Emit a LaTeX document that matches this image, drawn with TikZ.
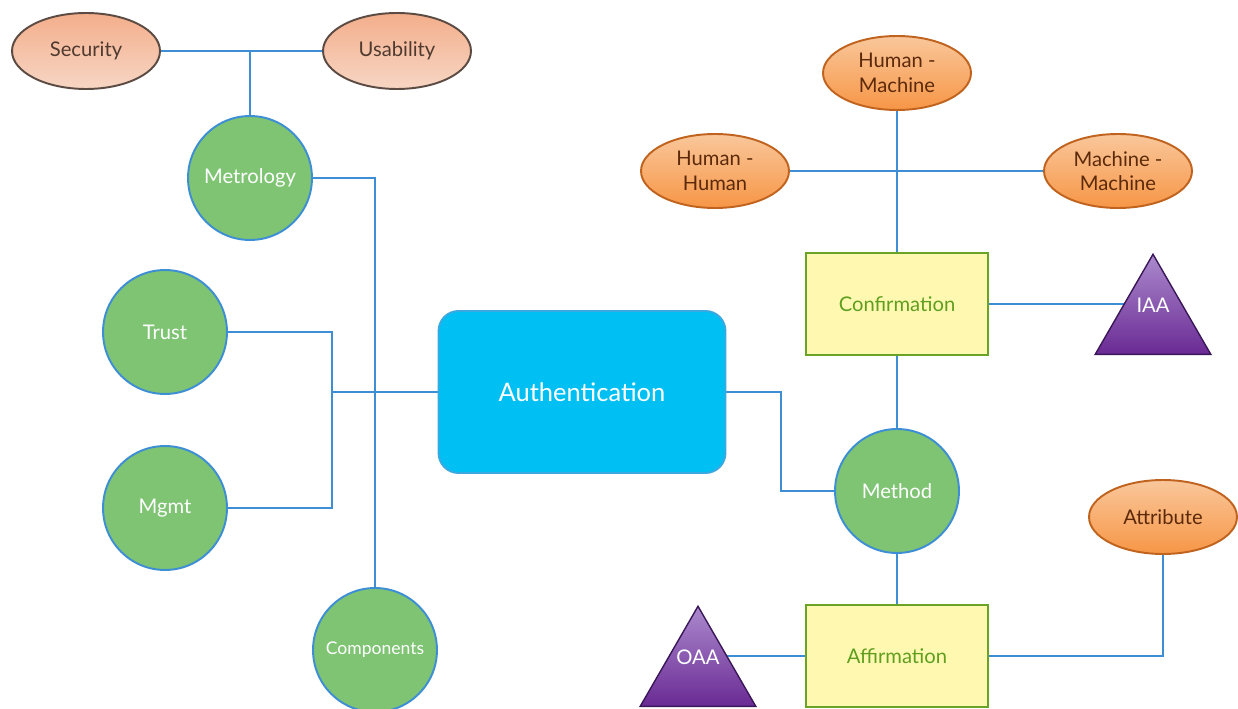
\documentclass[tikz,border=0pt]{standalone}
\usepackage{fontspec}
\setmainfont{Lato}
\usepackage{tikz}
\usetikzlibrary{shapes.geometric,backgrounds}
\definecolor{linkblue}{HTML}{3D8ED4}
\definecolor{topicgreen}{HTML}{7EC473}
\definecolor{authfill}{HTML}{00BFF3}
\definecolor{authline}{HTML}{3BA8E0}
\definecolor{stagefill}{HTML}{FFF8B0}
\definecolor{stageline}{HTML}{6BA424}
\definecolor{stagetext}{HTML}{5F9E1F}
\definecolor{qualtop}{HTML}{F3AE8B}
\definecolor{qualbottom}{HTML}{F7D6C4}
\definecolor{qualline}{HTML}{5B4B43}
\definecolor{qualtext}{HTML}{4F3A30}
\definecolor{partytop}{HTML}{F9C79B}
\definecolor{partybottom}{HTML}{F79646}
\definecolor{partyline}{HTML}{C0631E}
\definecolor{partytext}{HTML}{5C2A0A}
\definecolor{assurtop}{HTML}{AB8ACD}
\definecolor{assurbottom}{HTML}{6A2A94}
\definecolor{assurline}{HTML}{3A1758}

\begin{document}
\begin{tikzpicture}[x=0.02cm, y=-0.02cm,
  every node/.style={font=\fontsize{11.5}{14}\selectfont, align=center, inner sep=0pt},
  link/.style={linkblue, line width=1.1pt},
  topic/.style={circle, draw=linkblue, line width=1.1pt, fill=topicgreen, text=white, minimum size=2.48cm},
  quality/.style={ellipse, draw=qualline, line width=1.1pt, top color=qualtop, bottom color=qualbottom,
                  text=qualtext, minimum width=2.96cm, minimum height=1.52cm},
  party/.style={ellipse, draw=partyline, line width=1.1pt, top color=partytop, bottom color=partybottom,
                text=partytext, minimum width=2.96cm, minimum height=1.48cm},
  stage/.style={rectangle, draw=stageline, line width=1.1pt, fill=stagefill, text=stagetext,
                minimum width=3.64cm, minimum height=2.04cm},
  assur/.style={regular polygon, regular polygon sides=3, draw=assurline, line width=0.8pt,
                top color=assurtop, bottom color=assurbottom, minimum size=2.67cm},
  assurtext/.style={text=white, yshift=0.31cm}]

\useasboundingbox (0,0) rectangle (1238,709);

% left branch
\node[quality] (sec) at (86,51) {Security};
\node[quality] (usab) at (397,51) {Usability};
\node[topic] (metro) at (250,178) {Metrology};
\node[topic] (trust) at (165,332) {Trust};
\node[topic] (mgmt) at (165,508) {Mgmt};
\node[topic, font=\fontsize{10}{12}\selectfont] (comp) at (375,650) {Components};

% centre
\node[rectangle, rounded corners=0.4cm, draw=authline, line width=1.1pt, fill=authfill, text=white,
      minimum width=5.74cm, minimum height=3.24cm, font=\fontsize{14.5}{17}\selectfont] (auth) at (582,392) {Authentication};

% right branch
\node[party] (hm) at (897,73) {Human -\\Machine};
\node[party] (hh) at (715,171) {Human -\\Human};
\node[party] (mm) at (1118,171) {Machine -\\Machine};
\node[stage] (conf) at (897,304) {Confirmation};
\node[assur, label={[assurtext]center:IAA}] (iaa) at (1153,321) {};
\node[topic] (method) at (897,491) {Method};
\node[stage] (affirm) at (897,656) {Affirmation};
\node[assur, label={[assurtext]center:OAA}] (oaa) at (698,673) {};
\node[party] (attr) at (1163,517) {Attribute};

% connectors, kept behind the shapes
\begin{scope}[on background layer]
  \draw[link] (sec.east) -- (usab.west);
  \draw[link] (metro.north) -- (metro.north |- sec.east);
  \draw[link] (metro.east) -| (comp.north);
  \coordinate (bus) at (332,392);
  \draw[link] (trust.east) -| (bus) |- (mgmt.east);
  \draw[link] (bus) -- (auth.west);
  \draw[link] (auth.east) -- ++(55,0) |- (method.west);
  \draw[link] (hh.east) -- (mm.west);
  \draw[link] (hm.south) -- (conf.north);
  \draw[link] (conf.south) -- (method.north);
  \draw[link] (method.south) -- (affirm.north);
  \draw[link] (conf.east) -- (conf.east -| iaa);
  \draw[link] (affirm.west) -- (affirm.west -| oaa);
  \draw[link] (affirm.east) -| (attr.south);
\end{scope}

\end{tikzpicture}
\end{document}
